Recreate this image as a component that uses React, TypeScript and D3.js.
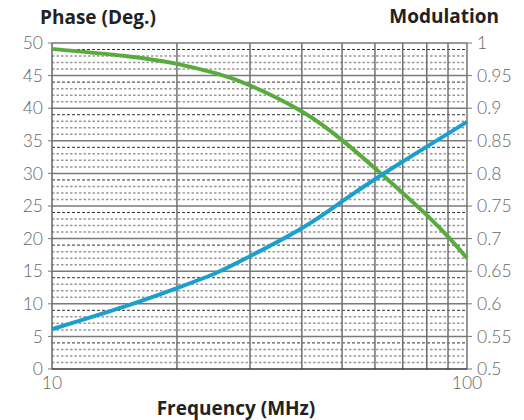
import * as d3 from 'd3';

// Frequency response: phase (left axis) and modulation (right axis) vs log frequency
const frequency = [10, 15, 20, 25, 30, 40, 50, 60, 70, 80, 90, 100];
const phase = [49.1, 48.0, 46.8, 45.3, 43.5, 39.5, 35.1, 30.8, 27.0, 23.6, 20.3, 17.0];
const modulation = [0.561, 0.596, 0.624, 0.648, 0.673, 0.716, 0.757, 0.791, 0.818, 0.841, 0.861, 0.879];

const phaseTicks = [0, 5, 10, 15, 20, 25, 30, 35, 40, 45, 50];
const modTicks = ['0.5', '0.55', '0.6', '0.65', '0.7', '0.75', '0.8', '0.85', '0.9', '0.95', '1'];
const freqGrid = [20, 30, 40, 50, 60, 70, 80, 90];
const freqLabels = [10, 100];

const W = 524;
const H = 420;
const margin = { top: 43, right: 57, bottom: 51, left: 52 };

const tickFont = 'Lato, "Open Sans", sans-serif';
const titleFont = '"Open Sans", "Noto Sans", sans-serif';

export default function App() {
  const iw = W - margin.left - margin.right;
  const ih = H - margin.top - margin.bottom;

  const x = d3.scaleLog().domain([10, 100]).range([0, iw]);
  const yPhase = d3.scaleLinear().domain([0, 50]).range([ih, 0]);
  const yMod = d3.scaleLinear().domain([0.5, 1]).range([ih, 0]);

  const rows = frequency.map((f, i) => ({ f, p: phase[i], m: modulation[i] }));

  const phaseLine = d3.line<typeof rows[0]>()
    .x((d) => x(d.f))
    .y((d) => yPhase(d.p))
    .curve(d3.curveNatural);
  const modLine = d3.line<typeof rows[0]>()
    .x((d) => x(d.f))
    .y((d) => yMod(d.m))
    .curve(d3.curveNatural);

  // one minor line per phase unit
  const minor = d3.range(1, 50).filter((v) => v % 5 !== 0);

  return (
    <svg width={W} height={H} style={{ position: 'absolute', left: 0, top: 0, background: '#fff' }}>
      <g transform={`translate(${margin.left},${margin.top})`}>
        {minor.map((v) => (
          <line
            key={`m${v}`}
            x1={0}
            x2={iw}
            y1={yPhase(v)}
            y2={yPhase(v)}
            stroke={v % 5 === 4 ? '#333' : '#999'}
            strokeWidth={v % 5 === 4 ? 1 : 1.5}
            strokeDasharray={v % 5 === 4 ? '3,2' : '2.5,2'}
          />
        ))}
        {phaseTicks.slice(1, -1).map((v) => (
          <line key={`h${v}`} x1={0} x2={iw} y1={yPhase(v)} y2={yPhase(v)} stroke="#7a7a7a" strokeWidth={1.5} />
        ))}
        {freqGrid.map((f) => (
          <line key={`v${f}`} x1={x(f)} x2={x(f)} y1={0} y2={ih} stroke="#707070" strokeWidth={1.5} />
        ))}
        <line x1={0} x2={iw} y1={0} y2={0} stroke="#777" strokeWidth={1.5} />
        <line x1={iw} x2={iw} y1={0} y2={ih} stroke="#777" strokeWidth={1.5} />
        <line x1={0} x2={0} y1={0} y2={ih} stroke="#666" strokeWidth={1.5} />
        <line x1={0} x2={iw} y1={ih} y2={ih} stroke="#333" strokeWidth={1.5} />

        <path d={phaseLine(rows) ?? ''} fill="none" stroke="#5aab3e" strokeWidth={4} />
        <path d={modLine(rows) ?? ''} fill="none" stroke="#1aa0cf" strokeWidth={4} />

        {phaseTicks.map((v) => (
          <g key={`lt${v}`} transform={`translate(0,${yPhase(v)})`}>
            <line x1={-4} x2={0} stroke="#777" />
            <text x={-9} dy="0.35em" textAnchor="end" fontFamily={tickFont} fontWeight={300} fontSize={17.5} fill="#666">
              {v}
            </text>
          </g>
        ))}
        {modTicks.map((v) => (
          <g key={`rt${v}`} transform={`translate(${iw},${yMod(+v)})`}>
            <line x1={0} x2={5} stroke="#777" />
            <text x={10} dy="0.35em" textAnchor="start" fontFamily={tickFont} fontWeight={300} fontSize={17.5} fill="#666">
              {v}
            </text>
          </g>
        ))}
        {freqLabels.map((f) => (
          <text key={`xt${f}`} x={x(f)} y={ih + 20} textAnchor="middle" fontFamily={tickFont} fontWeight={300} fontSize={17.5} fill="#666">
            {f}
          </text>
        ))}
      </g>

      <text x={40} y={24} fontFamily={titleFont} fontWeight={700} fontSize={19} fill="#222">
        Phase (Deg.)
      </text>
      <text x={499} y={23} textAnchor="end" fontFamily={titleFont} fontWeight={700} fontSize={19} fill="#222">
        Modulation
      </text>
      <text x={236} y={415} textAnchor="middle" fontFamily={titleFont} fontWeight={700} fontSize={19} fill="#222">
        Frequency (MHz)
      </text>
    </svg>
  );
}
